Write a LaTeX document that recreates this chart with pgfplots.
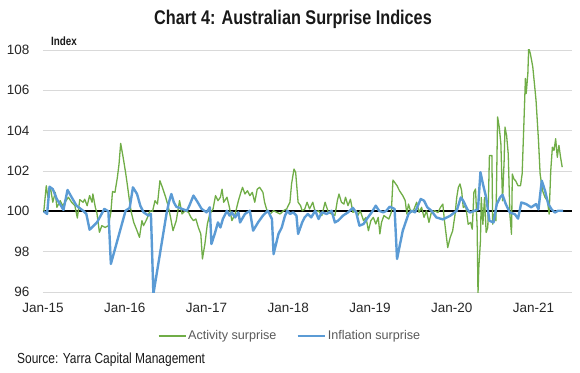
\documentclass[border=0pt]{standalone}
\usepackage{fontspec}
\setmainfont{Liberation Sans}
\newfontfamily\condensed[FakeStretch=0.82]{Liberation Sans}
\usepackage{pgfplots}
\pgfplotsset{compat=1.18}
\definecolor{actgreen}{RGB}{112,173,71}
\definecolor{inflblue}{RGB}{91,155,213}
\definecolor{gridgrey}{RGB}{217,217,217}
\definecolor{txtgrey}{RGB}{89,89,89}
\begin{document}
\begin{tikzpicture}
\useasboundingbox (-43pt,-80pt) rectangle (537pt,292pt);
\begin{axis}[
  at={(0pt,0pt)}, anchor=south west,
  scale only axis, width=529pt, height=242pt,
  xmin=2015, xmax=2021.47, ymin=96, ymax=108,
  ytick={96,98,...,108},
  xtick={2015,2016,...,2021},
  xticklabels={Jan-15,Jan-16,Jan-17,Jan-18,Jan-19,Jan-20,Jan-21},
  ymajorgrids, grid style={gridgrey, line width=0.8pt},
  axis line style={draw=none},
  tick style={draw=none},
  /pgf/number format/assume math mode=true,
  ticklabel style={font=\fontsize{13.5}{15}\selectfont, text=black!85},
  yticklabel style={xshift=-10pt},
  xticklabel style={yshift=-8pt},
  clip mode=individual,
  legend style={draw=none, fill=none, at={(axis description cs:0.467,-0.182)}, anchor=center,
    font=\fontsize{12.6}{14}\selectfont, text=txtgrey,
    /tikz/every even column/.append style={column sep=18pt}},
  legend columns=2,
  legend cell align=left,
]
\addplot[black, line width=2.3pt, forget plot] coordinates {(2015,100) (2021.47,100)};
\addplot[actgreen, line width=1.3pt, line join=round,
  legend image code/.code={\draw[actgreen, line width=1.3pt] (0pt,0pt) -- (27pt,0pt);}]
coordinates {
(2015.01,100.0) (2015.04,101.27) (2015.06,100.7) (2015.09,101.2) (2015.12,100.45)
(2015.15,100.94) (2015.17,100.2) (2015.21,100.53) (2015.24,100.28) (2015.27,100.45)
(2015.31,100.7) (2015.35,100.45) (2015.39,100.28) (2015.42,99.67) (2015.45,100.58)
(2015.49,100.45) (2015.51,100.6) (2015.54,100.28) (2015.57,100.78) (2015.60,100.45)
(2015.61,100.86) (2015.64,100.2) (2015.66,99.9) (2015.69,98.96) (2015.72,99.29)
(2015.76,99.2) (2015.80,99.29) (2015.83,99.95) (2015.85,100.98) (2015.88,100.94)
(2015.91,101.69) (2015.93,102.35) (2015.95,103.37) (2015.98,102.68) (2016.01,101.93)
(2016.03,101.36) (2016.06,100.45) (2016.08,99.95) (2016.11,99.45) (2016.15,99.04)
(2016.18,98.71) (2016.21,99.54) (2016.23,99.29) (2016.27,99.62) (2016.31,100.03)
(2016.34,100.0) (2016.37,100.53) (2016.40,100.36) (2016.43,101.52) (2016.46,101.19)
(2016.50,100.7) (2016.53,100.28) (2016.56,99.7) (2016.59,99.04) (2016.63,99.54)
(2016.67,100.53) (2016.70,99.87) (2016.74,100.03) (2016.78,99.95) (2016.81,99.7)
(2016.84,99.54) (2016.87,99.62) (2016.90,99.2) (2016.93,98.88) (2016.95,97.64)
(2016.98,98.38) (2017.01,99.37) (2017.04,99.87) (2017.08,100.12) (2017.11,100.78)
(2017.14,100.53) (2017.17,100.7) (2017.19,101.1) (2017.21,100.45) (2017.25,100.7)
(2017.28,100.2) (2017.31,99.54) (2017.35,99.87) (2017.39,100.53) (2017.42,100.94)
(2017.44,101.19) (2017.47,100.86) (2017.50,101.02) (2017.53,100.78) (2017.56,100.94)
(2017.59,100.45) (2017.62,101.1) (2017.65,101.19) (2017.69,100.94) (2017.71,100.45)
(2017.74,100.03) (2017.78,99.87) (2017.82,100.03) (2017.86,99.95) (2017.90,99.87)
(2017.94,100.03) (2017.98,100.12) (2018.02,100.45) (2018.04,101.36) (2018.07,102.1)
(2018.09,101.93) (2018.12,100.45) (2018.15,100.28) (2018.17,100.03) (2018.20,100.1)
(2018.23,100.45) (2018.26,100.12) (2018.30,100.45) (2018.33,99.95) (2018.37,100.03)
(2018.41,99.79) (2018.45,100.45) (2018.49,99.95) (2018.53,99.87) (2018.57,99.79)
(2018.60,100.53) (2018.62,100.86) (2018.65,100.45) (2018.68,100.36) (2018.70,100.7)
(2018.73,100.28) (2018.76,100.6) (2018.79,99.95) (2018.83,100.03) (2018.85,99.79)
(2018.88,100.03) (2018.92,99.54) (2018.95,99.7) (2018.98,99.04) (2019.01,99.54)
(2019.04,99.7) (2019.07,99.37) (2019.10,99.7) (2019.12,98.88) (2019.14,99.45)
(2019.17,99.79) (2019.20,99.7) (2019.23,99.62) (2019.26,99.95) (2019.28,101.55)
(2019.30,101.44) (2019.33,101.27) (2019.36,101.02) (2019.40,100.78) (2019.43,100.53)
(2019.45,99.87) (2019.47,100.36) (2019.50,99.95) (2019.53,100.03) (2019.57,100.45)
(2019.60,99.95) (2019.63,100.2) (2019.66,99.7) (2019.69,100.03) (2019.72,99.45)
(2019.75,99.95) (2019.79,100.03) (2019.83,99.94) (2019.86,100.19) (2019.89,100.36)
(2019.91,99.53) (2019.94,98.53) (2019.95,98.2) (2019.98,98.7) (2020.01,99.03)
(2020.04,99.86) (2020.06,100.69) (2020.08,101.19) (2020.10,101.36) (2020.12,101.02)
(2020.14,100.19) (2020.17,100.27) (2020.20,99.36) (2020.23,99.45) (2020.25,99.11)
(2020.27,100.94) (2020.29,101.11) (2020.31,99.2) (2020.32,95.9) (2020.33,97.2)
(2020.35,98.53) (2020.36,100.69) (2020.38,99.36) (2020.40,100.69) (2020.42,98.95)
(2020.44,99.2) (2020.46,102.77) (2020.49,102.77) (2020.50,99.36) (2020.51,99.86)
(2020.54,99.53) (2020.56,104.68) (2020.58,104.18) (2020.60,103.35) (2020.62,100.52)
(2020.64,102.52) (2020.65,104.18) (2020.67,103.76) (2020.69,102.85) (2020.71,99.86)
(2020.73,98.86) (2020.74,101.85) (2020.76,101.6) (2020.78,101.52) (2020.81,101.27)
(2020.84,101.27) (2020.86,101.85) (2020.88,104.18) (2020.90,106.59) (2020.91,105.84)
(2020.93,106.84) (2020.94,108.1) (2020.96,107.83) (2020.99,107.17) (2021.01,106.34)
(2021.03,105.5) (2021.06,103.51) (2021.08,101.85) (2021.11,101.02) (2021.14,100.69)
(2021.17,100.52) (2021.19,99.86) (2021.21,102.02) (2021.23,103.18) (2021.25,103.02)
(2021.27,103.6) (2021.29,102.68) (2021.31,103.27) (2021.33,102.68) (2021.35,102.19)
};
\addlegendentry{Activity surprise}
\addplot[inflblue, line width=2.4pt, line join=round,
  legend image code/.code={\draw[inflblue, line width=2.4pt] (0pt,0pt) -- (27pt,0pt);}]
coordinates {
(2015.01,100.0) (2015.05,99.87) (2015.08,101.22) (2015.12,101.1) (2015.17,100.6)
(2015.22,100.28) (2015.25,100.07) (2015.30,101.06) (2015.35,100.7) (2015.41,100.28)
(2015.49,100.03) (2015.53,99.87) (2015.57,99.09) (2015.66,99.45) (2015.75,100.12)
(2015.80,100.0) (2015.83,97.39) (2016.01,100.03) (2016.06,100.17) (2016.10,101.19)
(2016.15,100.86) (2016.19,100.28) (2016.23,99.95) (2016.29,99.79) (2016.32,99.87)
(2016.35,95.9) (2016.51,99.87) (2016.54,100.45) (2016.57,100.86) (2016.60,100.45)
(2016.63,100.23) (2016.70,100.12) (2016.76,100.03) (2016.79,100.28) (2016.84,100.78)
(2016.88,100.53) (2016.94,100.12) (2017.00,99.95) (2017.04,100.2) (2017.06,98.38)
(2017.10,98.88) (2017.14,99.45) (2017.17,99.2) (2017.20,99.62) (2017.25,100.03)
(2017.28,99.79) (2017.31,99.95) (2017.35,99.7) (2017.39,99.95) (2017.41,99.45)
(2017.47,99.87) (2017.53,100.03) (2017.57,99.04) (2017.63,99.45) (2017.69,99.79)
(2017.75,100.03) (2017.80,99.62) (2017.82,97.88) (2017.88,98.88) (2017.92,99.2)
(2017.96,99.79) (2017.99,100.03) (2018.02,99.87) (2018.06,99.95) (2018.10,99.79)
(2018.12,98.88) (2018.17,99.45) (2018.20,99.7) (2018.24,99.87) (2018.28,99.7)
(2018.33,100.03) (2018.37,99.62) (2018.41,99.95) (2018.47,99.87) (2018.53,100.03)
(2018.57,99.45) (2018.61,99.54) (2018.67,99.79) (2018.73,99.95) (2018.79,100.17)
(2018.83,99.95) (2018.87,99.29) (2018.92,99.37) (2018.96,99.62) (2019.02,99.95)
(2019.07,100.28) (2019.11,100.03) (2019.16,99.95) (2019.20,100.03) (2019.24,100.23)
(2019.30,100.12) (2019.33,97.64) (2019.40,99.04) (2019.47,99.87) (2019.51,100.03)
(2019.55,99.95) (2019.62,100.61) (2019.66,100.53) (2019.70,100.2) (2019.75,100.03)
(2019.81,99.7) (2019.89,99.6) (2019.98,99.78) (2020.06,100.03) (2020.11,100.69)
(2020.14,100.52) (2020.19,100.1) (2020.22,99.94) (2020.28,100.03) (2020.32,100.1)
(2020.35,101.94) (2020.38,101.36) (2020.42,100.69) (2020.46,99.53) (2020.51,99.45)
(2020.55,100.36) (2020.59,100.69) (2020.62,100.82) (2020.66,100.36) (2020.71,99.94)
(2020.77,99.86) (2020.81,99.64) (2020.85,100.44) (2020.91,100.36) (2020.97,100.2)
(2021.03,100.36) (2021.06,100.1) (2021.10,101.52) (2021.14,101.02) (2021.18,100.36)
(2021.22,100.1) (2021.26,99.94) (2021.30,100.03) (2021.36,100.03)
};
\addlegendentry{Inflation surprise}
\end{axis}
\node[font=\condensed\bfseries\fontsize{19.8}{22}\selectfont, text=black!90] at (250pt,273pt) {Chart 4: Australian Surprise Indices};
\node[font=\condensed\bfseries\fontsize{12}{14}\selectfont, anchor=west, text=black!90, inner sep=0pt] at (8pt,251pt) {Index};
\node[font=\condensed\fontsize{14.6}{16}\selectfont, anchor=west, text=black!90, inner sep=0pt] at (-26pt,-68pt) {Source: Yarra Capital Management};
\end{tikzpicture}
\end{document}
